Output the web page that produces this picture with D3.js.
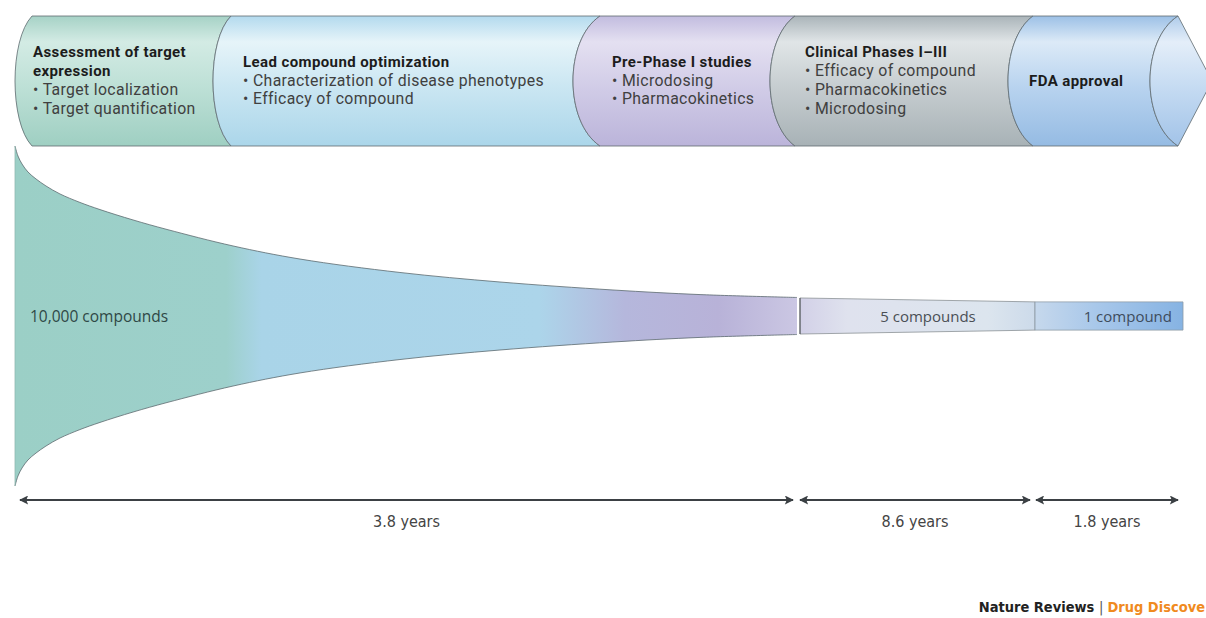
<!DOCTYPE html>
<html><head><meta charset="utf-8">
<script src="https://cdn.jsdelivr.net/npm/d3@7/dist/d3.min.js"></script>
<style>
html,body{margin:0;padding:0;background:#fff;}
svg{display:block;}
</style></head>
<body>
<svg id="chart" width="1206" height="618"></svg>
<script>
// ---------------- data ----------------
const stageTitles = [["Assessment of target","expression"],["Lead compound optimization"],["Pre-Phase I studies"],["Clinical Phases I–III"],["FDA approval"]];
const stageBullets = [["Target localization","Target quantification"],["Characterization of disease phenotypes","Efficacy of compound"],["Microdosing","Pharmacokinetics"],["Efficacy of compound","Pharmacokinetics","Microdosing"],[]];
// relative pool size along the discovery funnel (progress 0..1, size 0..100)
const funnelProgress = [0, 0.0038, 0.009, 0.0166, 0.0269, 0.0396, 0.0575, 0.0831, 0.1087, 0.1509, 0.1944, 0.2788, 0.3645, 0.4923, 0.6202, 0.7647, 0.876, 1];
const funnelSize     = [100, 94.1, 89.4, 84.7, 80.6, 76.5, 71.8, 66.8, 62.6, 56.5, 50.9, 41.2, 33.5, 25.6, 20, 15.3, 12.6, 10.9];
const compoundCounts = [10000, 5, 1];
const compoundLabels = ["10,000 compounds","5 compounds","1 compound"];
const durations = [3.8, 8.6, 1.8];
const durationLabels = ["3.8 years","8.6 years","1.8 years"];

// ---------------- layout ----------------
const svg = d3.select("#chart");
const defs = svg.append("defs");
const FONT = "'Open Sans','Noto Sans',sans-serif";
const TUBEFONT = "Roboto,'Liberation Sans',sans-serif";
const NARROW = "'Liberation Sans Narrow','DejaVu Sans Condensed','Roboto',sans-serif";

// top tube
const tubeTop = 16, tubeBot = 146, tubeMid = (tubeTop+tubeBot)/2;
const bounds = [32, 231, 600, 795, 1033, 1178];
const bulges = [17, 18, 27, 25, 25, 28];
const tipX = 1212;
const segColors = [
  ["#a6d2c6","#d3ebe4","#bde0d6","#9fcfc2"],
  ["#b3daee","#e6f4f9","#cae6f2","#abd6ea"],
  ["#c2bcdf","#e4e0f1","#d1cce7","#bbb4da"],
  ["#aab4b9","#e0e5e7","#c6cdd0","#a8b2b6"],
  ["#9cc0e6","#dceaf7","#b8d3ef","#95bbe3"],
  ["#aecbea","#e4eef9","#c5dbf2","#a2c3e8"]
];
function arcDown(x,b){ // from top to bottom bulging left
  const k = b/0.75;
  return `C${x-k},${tubeTop+24} ${x-k},${tubeBot-24} ${x},${tubeBot}`;
}
function arcUp(x,b){
  const k = b/0.75;
  return `C${x-k},${tubeBot-24} ${x-k},${tubeTop+24} ${x},${tubeTop}`;
}
segColors.forEach((c,i)=>{
  const g = defs.append("linearGradient").attr("id","seg"+i)
    .attr("x1",0).attr("y1",0).attr("x2",0).attr("y2",1);
  [[0,c[0]],[0.2,c[1]],[0.55,c[2]],[1,c[3]]].forEach(s=>g.append("stop").attr("offset",s[0]).attr("stop-color",s[1]));
});
const tube = svg.append("g");
for(let i=0;i<5;i++){
  const xL = bounds[i], xR = bounds[i+1];
  const d = `M${xL},${tubeTop}L${xR},${tubeTop}` + arcDown(xR,bulges[i+1]) + `L${xL},${tubeBot}` + arcUp(xL,bulges[i]) + "Z";
  tube.append("path").attr("d",d).attr("fill",`url(#seg${i})`).attr("stroke","#5f6b70").attr("stroke-width",0.8);
}
// tip
{
  const xL = bounds[5];
  const d = `M${xL},${tubeTop}L${tipX},${tubeMid}L${xL},${tubeBot}` + arcUp(xL,bulges[5]) + "Z";
  tube.append("path").attr("d",d).attr("fill","url(#seg5)").attr("stroke","#5f6b70").attr("stroke-width",0.8);
}
// stage text
const textX = [33, 243, 612, 805, 1029];
const lh = 18.8;
stageTitles.forEach((t,i)=>{
  const lines = t.map(s=>({s,bold:true})).concat(stageBullets[i].map(s=>({s:"• "+s,bold:false})));
  const y0 = tubeMid - (lines.length-1)*lh/2 + 4.5;
  lines.forEach((l,j)=>{
    tube.append("text").attr("x",textX[i]).attr("y",y0+j*lh)
      .attr("font-family",TUBEFONT)
      .attr("font-size",l.bold?15:15.8)
      .attr("font-weight",l.bold?700:400)
      .attr("letter-spacing",l.bold?0.4:0.35)
      .attr("fill",l.bold?"#1c1c1c":"#404040")
      .text(l.s);
  });
});

// funnel
const cy = 316;
const xF = d3.scaleLinear().domain([0,1]).range([15,797]);
const yS = d3.scaleLinear().domain([0,100]).range([0,170]);
const fg = defs.append("linearGradient").attr("id","funnelGrad").attr("gradientUnits","userSpaceOnUse")
  .attr("x1",15).attr("x2",797).attr("y1",0).attr("y2",0);
[[0,"#9bcfc6"],[0.27,"#9dd0cb"],[0.315,"#a9d4e8"],[0.67,"#acd5ea"],[0.78,"#b5b7dc"],[0.9,"#b8b2d8"],[1,"#cbc7e3"]]
  .forEach(s=>fg.append("stop").attr("offset",s[0]).attr("stop-color",s[1]));
const fdata = funnelProgress.map((p,i)=>({p, w:funnelSize[i]}));
const curve = d3.curveCatmullRom.alpha(0.5);
const area = d3.area().x(d=>xF(d.p)).y0(d=>cy-yS(d.w)).y1(d=>cy+yS(d.w)).curve(curve);
svg.append("path").attr("d",area(fdata)).attr("fill","url(#funnelGrad)");
const lineTop = d3.line().x(d=>xF(d.p)).y(d=>cy-yS(d.w)).curve(curve);
const lineBot = d3.line().x(d=>xF(d.p)).y(d=>cy+yS(d.w)).curve(curve);
svg.append("path").attr("d",lineTop(fdata)).attr("fill","none").attr("stroke","#5c6a6e").attr("stroke-width",0.8);
svg.append("path").attr("d",lineBot(fdata)).attr("fill","none").attr("stroke","#5c6a6e").attr("stroke-width",0.8);
svg.append("line").attr("x1",xF(0)).attr("x2",xF(0)).attr("y1",cy-yS(100)).attr("y2",cy+yS(100)).attr("stroke","#8fb9b1").attr("stroke-width",0.8);

// later bands (sizes relative to funnel end)
const band1 = {x0:800, x1:1035, w0:10.6, w1:8.3};
const band2 = {x0:1035, x1:1183, w0:8.3, w1:8.3};
const b1g = defs.append("linearGradient").attr("id","b1g").attr("gradientUnits","userSpaceOnUse").attr("x1",800).attr("x2",1035).attr("y1",0).attr("y2",0);
[[0,"#d2d0e7"],[0.2,"#dfe2ee"],[0.8,"#dce5ee"],[1,"#ccdaea"]].forEach(s=>b1g.append("stop").attr("offset",s[0]).attr("stop-color",s[1]));
const b2g = defs.append("linearGradient").attr("id","b2g").attr("gradientUnits","userSpaceOnUse").attr("x1",1035).attr("x2",1183).attr("y1",0).attr("y2",0);
[[0,"#c6d8ec"],[0.4,"#a9c8ea"],[1,"#86b3e3"]].forEach(s=>b2g.append("stop").attr("offset",s[0]).attr("stop-color",s[1]));
function bandPath(b){
  return `M${b.x0},${cy-yS(b.w0)}L${b.x1},${cy-yS(b.w1)}L${b.x1},${cy+yS(b.w1)}L${b.x0},${cy+yS(b.w0)}Z`;
}
svg.append("path").attr("d",bandPath(band1)).attr("fill","url(#b1g)").attr("stroke","#8c9296").attr("stroke-width",0.8);
svg.append("path").attr("d",bandPath(band2)).attr("fill","url(#b2g)").attr("stroke","#8c9aa6").attr("stroke-width",0.8);
svg.append("line").attr("x1",800).attr("x2",800).attr("y1",cy-yS(band1.w0)).attr("y2",cy+yS(band1.w0)).attr("stroke","#4a4f52").attr("stroke-width",1);

// compound labels
svg.append("text").attr("x",30).attr("y",cy+6).attr("font-family",FONT).attr("font-size",15.5).attr("fill","#2f4846").text(compoundLabels[0]);
svg.append("text").attr("x",928).attr("y",cy+6).attr("text-anchor","middle").attr("font-family",FONT).attr("font-size",15).attr("fill","#4a4f55").text(compoundLabels[1]);
svg.append("text").attr("x",1172).attr("y",cy+6).attr("text-anchor","end").attr("font-family",FONT).attr("font-size",15).attr("fill","#3e4c5c").text(compoundLabels[2]);

// duration arrows
const arrowY = 500;
const spans = [[20,793],[800,1030],[1036,1178]];
defs.append("marker").attr("id","ah").attr("viewBox","0 0 10 10").attr("refX",9).attr("refY",5)
  .attr("markerWidth",5).attr("markerHeight",4.5).attr("orient","auto-start-reverse")
  .append("path").attr("d","M0,0L10,5L0,10L2,5Z").attr("fill","#3b4044");
spans.forEach((s,i)=>{
  svg.append("line").attr("x1",s[0]).attr("x2",s[1]).attr("y1",arrowY).attr("y2",arrowY)
    .attr("stroke","#3b4044").attr("stroke-width",2)
    .attr("marker-start","url(#ah)").attr("marker-end","url(#ah)");
  svg.append("text").attr("x",(s[0]+s[1])/2).attr("y",arrowY+27).attr("text-anchor","middle")
    .attr("font-family",NARROW).attr("font-size",16).attr("font-stretch","condensed").attr("fill","#444").text(durationLabels[i]);
});

// footer
const ft = svg.append("text").attr("x",1205).attr("y",612).attr("text-anchor","end").attr("font-family",NARROW).attr("font-size",14.5).attr("font-weight",700);
ft.append("tspan").attr("fill","#222").text("Nature Reviews ");
ft.append("tspan").attr("fill","#555").attr("font-weight",400).text("| ");
ft.append("tspan").attr("fill","#f08a1e").text("Drug Discove");
</script>
</body></html>
